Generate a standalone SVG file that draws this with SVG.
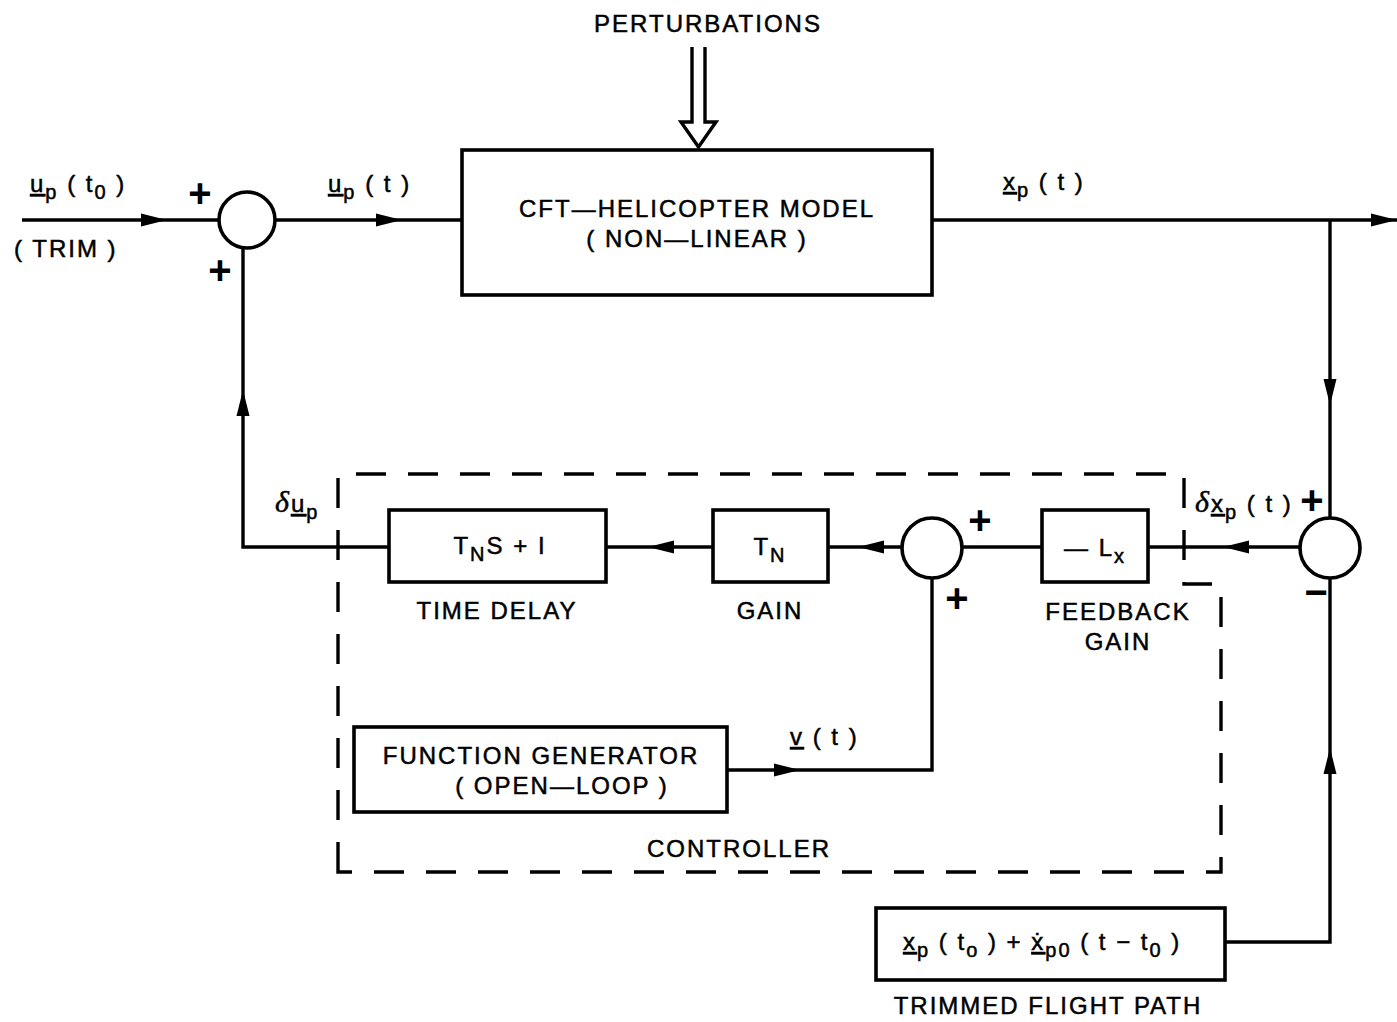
<svg xmlns="http://www.w3.org/2000/svg" xmlns:xlink="http://www.w3.org/1999/xlink" width="1397" height="1022" viewBox="0 0 1397 1022">
<style>
.ln{fill:none;stroke:#000;stroke-width:3.4}
.bx{fill:#fff;stroke:#000;stroke-width:3.6}
.ds{fill:none;stroke:#000;stroke-width:3.4;stroke-dasharray:30 22}
.t{font-family:"Liberation Sans",Arial,sans-serif;font-size:24px;letter-spacing:2px;fill:#000;stroke:#000;stroke-width:0.5}
.m{text-anchor:middle}
.sg{font-family:"Liberation Sans",Arial,sans-serif;font-size:40px;font-weight:bold;fill:#000;text-anchor:middle}
.ul{text-decoration:underline}
</style>
<defs>
<path id="ah" d="M0,0 L-26,-6.5 L-26,6.5 Z" fill="#000"/>
</defs>
<rect width="1397" height="1022" fill="#fff"/>

<g id="connectors">
<path class="ln" d="M22,220 H219"/>
<path class="ln" d="M275,220 H462"/>
<path class="ln" d="M932,220 H1397"/>
<path class="ln" d="M1330,220 V518"/>
<path class="ln" d="M1300,547 H1148"/>
<path class="ln" d="M1042,547 H962"/>
<path class="ln" d="M902,547 H828"/>
<path class="ln" d="M713,547 H606"/>
<path class="ln" d="M389,547 H243 V248"/>
<path class="ln" d="M932,577 V770 H727"/>
<path class="ln" d="M1225,942 H1330 V578"/>
<path class="ln" d="M692,47 V122 H681 L698.5,147 L716,122 H705 V47"/>
<use xlink:href="#ah" transform="translate(167,220)"/>
<use xlink:href="#ah" transform="translate(402,220)"/>
<use xlink:href="#ah" transform="translate(1397,220)"/>
<use xlink:href="#ah" transform="translate(1330,405) rotate(90)"/>
<use xlink:href="#ah" transform="translate(1223,547) rotate(180)"/>
<use xlink:href="#ah" transform="translate(858,547) rotate(180)"/>
<use xlink:href="#ah" transform="translate(648,547) rotate(180)"/>
<use xlink:href="#ah" transform="translate(243,390) rotate(-90)"/>
<use xlink:href="#ah" transform="translate(800,770)"/>
<use xlink:href="#ah" transform="translate(1330,748) rotate(-90)"/>
</g>

<g id="controller-boundary">
<path class="ds" d="M338,872 V474 H1184 V584 H1221 V872 Z"/>
<text class="t m" x="739" y="857">CONTROLLER</text>
</g>

<g id="perturbations">
<text class="t m" x="708" y="32">PERTURBATIONS</text>
</g>

<g id="input-labels">
<text class="t" x="30" y="192"><tspan class="ul">u</tspan><tspan font-size="20" dy="7">p</tspan><tspan dy="-7"> ( t</tspan><tspan font-size="20" dy="7">0</tspan><tspan dy="-7"> )</tspan></text>
<text class="t" x="14" y="257">( TRIM )</text>
<text class="t" x="328" y="192"><tspan class="ul">u</tspan><tspan font-size="20" dy="7">p</tspan><tspan dy="-7"> ( t )</tspan></text>
</g>

<g id="sum1">
<circle class="bx" cx="247" cy="220" r="28"/>
<text class="sg" x="200" y="207">+</text>
<text class="sg" x="220" y="284">+</text>
</g>

<g id="helicopter-model">
<rect class="bx" x="462" y="150" width="470" height="145"/>
<text class="t m" x="697" y="217">CFT—HELICOPTER MODEL</text>
<text class="t m" x="697" y="247">( NON—LINEAR )</text>
</g>

<g id="output-label">
<text class="t" x="1003" y="190"><tspan class="ul">x</tspan><tspan font-size="20" dy="7">p</tspan><tspan dy="-7"> ( t )</tspan></text>
</g>

<g id="sum2">
<circle class="bx" cx="1330" cy="548" r="30"/>
<text class="sg" x="1312" y="514">+</text>
<text class="sg" x="1316" y="606">−</text>
<text class="t" x="1195" y="512"><tspan font-family="Liberation Serif" font-style="italic" font-size="30">δ</tspan><tspan class="ul">x</tspan><tspan font-size="20" dy="7">p</tspan><tspan dy="-7"> ( t )</tspan></text>
</g>

<g id="feedback-gain">
<rect class="bx" x="1042" y="510" width="106" height="72"/>
<text class="t m" x="1095" y="556">— L<tspan font-size="20" dy="7">x</tspan></text>
<text class="t m" x="1118" y="620">FEEDBACK</text>
<text class="t m" x="1118" y="650">GAIN</text>
</g>

<g id="sum3">
<circle class="bx" cx="932" cy="548" r="30"/>
<text class="sg" x="980" y="534">+</text>
<text class="sg" x="957" y="612">+</text>
</g>

<g id="gain">
<rect class="bx" x="713" y="510" width="115" height="72"/>
<text class="t m" x="770" y="555">T<tspan font-size="20" dy="7">N</tspan></text>
<text class="t m" x="770" y="619">GAIN</text>
</g>

<g id="time-delay">
<rect class="bx" x="389" y="510" width="217" height="72"/>
<text class="t m" x="500" y="554">T<tspan font-size="20" dy="7">N</tspan><tspan dy="-7">S + I</tspan></text>
<text class="t m" x="497" y="619">TIME DELAY</text>
<text class="t" x="275" y="512"><tspan font-family="Liberation Serif" font-style="italic" font-size="30">δ</tspan><tspan class="ul">u</tspan><tspan font-size="20" dy="7">p</tspan></text>
</g>

<g id="function-generator">
<rect class="bx" x="354" y="727" width="373" height="85"/>
<text class="t m" x="541" y="764">FUNCTION GENERATOR</text>
<text class="t m" x="562" y="794">( OPEN—LOOP )</text>
<text class="t" x="790" y="745"><tspan class="ul">v</tspan> ( t )</text>
</g>

<g id="trimmed-flight-path">
<rect class="bx" x="876" y="908" width="349" height="72"/>
<text class="t" x="903" y="950" letter-spacing="3"><tspan class="ul">x</tspan><tspan font-size="20" dy="7">p</tspan><tspan dy="-7"> ( t</tspan><tspan font-size="20" dy="7">o</tspan><tspan dy="-7"> ) + </tspan><tspan class="ul">ẋ</tspan><tspan font-size="20" dy="7">p0</tspan><tspan dy="-7"> ( t − t</tspan><tspan font-size="20" dy="7">0</tspan><tspan dy="-7"> )</tspan></text>
<text class="t m" x="1048" y="1014">TRIMMED FLIGHT PATH</text>
</g>
</svg>
